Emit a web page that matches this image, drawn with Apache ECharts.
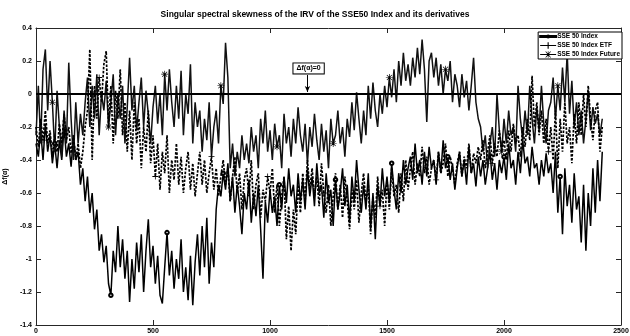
<!DOCTYPE html>
<html><head><meta charset="utf-8">
<script src="https://cdn.jsdelivr.net/npm/echarts@6/dist/echarts.min.js"></script>
<style>html,body{margin:0;padding:0;background:#fff}#c{width:630px;height:336px}</style>
</head><body><div id="c"></div>
<script>
const titleText = 'Singular spectral skewness of the IRV of the SSE50 Index and its derivatives';
const seriesNames = ['SSE 50 Index', 'SSE 50 Index ETF', 'SSE 50 Index Future'];
const xTicks = [0, 500, 1000, 1500, 2000, 2500];
const yTicks = [-1.4, -1.2, -1, -0.8, -0.6, -0.4, -0.2, 0, 0.2, 0.4];
const sampleStep = 10; // observations sampled every 10 points

const indexVals = [
-0.30,-0.38,-0.22,-0.40,-0.18,-0.35,-0.25,-0.42,-0.30,-0.45,
-0.28,-0.40,-0.20,-0.38,-0.30,-0.44,-0.25,-0.40,-0.35,-0.55,
-0.45,-0.65,-0.50,-0.72,-0.60,-0.82,-0.70,-0.95,-0.85,-1.02,
-0.92,-1.15,-1.22,-0.95,-1.08,-0.80,-1.05,-0.88,-1.12,-0.95,
-1.26,-1.00,-1.18,-0.90,-1.08,-0.85,-1.20,-0.95,-0.76,-1.05,
-0.92,-1.15,-0.98,-1.22,-1.27,-1.05,-0.84,-1.10,-0.95,-1.18,
-1.00,-1.12,-0.88,-1.20,-1.05,-1.25,-0.98,-1.28,-1.02,-0.85,
-1.10,-0.80,-1.05,-0.75,-1.15,-0.90,-1.05,-0.70,-0.55,-0.62,
-0.48,-0.58,-0.42,-0.65,-0.50,-0.72,-0.55,-0.68,-0.85,-0.60,
-0.70,-0.52,-0.78,-0.60,-0.74,-0.55,-0.82,-1.12,-0.65,-0.78,
-0.58,-0.72,-0.62,-0.80,-0.55,-0.70,-0.50,-0.66,-0.45,-0.62,
-0.55,-0.72,-0.48,-0.65,-0.52,-0.70,-0.45,-0.62,-0.50,-0.68,
-0.42,-0.60,-0.55,-0.75,-0.48,-0.66,-0.58,-0.80,-0.52,-0.70,
-0.60,-0.45,-0.68,-0.55,-0.78,-0.50,-0.65,-0.40,-0.58,-0.72,
-0.55,-0.70,-0.48,-0.82,-0.60,-0.88,-0.55,-0.68,-0.45,-0.62,
-0.50,-0.66,-0.42,-0.58,-0.70,-0.48,-0.60,-0.40,-0.55,-0.45,
-0.38,-0.52,-0.30,-0.48,-0.40,-0.55,-0.35,-0.50,-0.32,-0.45,
-0.40,-0.55,-0.35,-0.48,-0.28,-0.45,-0.38,-0.52,-0.42,-0.58,
-0.45,-0.35,-0.50,-0.40,-0.55,-0.32,-0.48,-0.42,-0.56,-0.38,
-0.50,-0.40,-0.55,-0.45,-0.35,-0.52,-0.42,-0.58,-0.40,-0.48,
-0.38,-0.52,-0.30,-0.45,-0.40,-0.55,-0.35,-0.48,-0.28,-0.42,
-0.38,-0.50,-0.32,-0.45,-0.42,-0.55,-0.40,-0.50,-0.36,-0.48,
-0.42,-0.60,-0.35,-0.72,-0.50,-0.85,-0.45,-0.68,-0.55,-0.78,
-0.48,-0.70,-0.62,-0.90,-0.55,-0.95,-0.60,-0.80,-0.45,-0.72,
-0.40,-0.65,-0.35
];
const etfVals = [
-0.20,-0.32,-0.15,-0.28,-0.10,-0.30,-0.22,-0.38,-0.25,-0.35,
-0.18,-0.30,-0.12,-0.28,-0.20,-0.36,-0.25,-0.40,-0.30,-0.45,
-0.35,-0.20,-0.10,0.27,-0.40,0.05,-0.15,0.10,-0.05,0.18,
0.26,-0.20,0.05,-0.30,0.02,-0.15,0.15,-0.25,-0.05,-0.35,
-0.10,-0.40,-0.05,-0.30,-0.15,-0.45,-0.20,-0.35,-0.10,-0.42,
-0.25,-0.50,-0.30,-0.58,-0.35,-0.48,-0.25,-0.60,-0.40,-0.52,
-0.30,-0.55,-0.38,-0.60,-0.45,-0.35,-0.58,-0.42,-0.62,-0.48,
-0.35,-0.55,-0.40,-0.60,-0.48,-0.38,-0.58,-0.45,-0.62,-0.50,
-0.40,-0.55,-0.45,-0.65,-0.50,-0.38,-0.60,-0.48,-0.70,-0.52,
-0.45,-0.62,-0.40,-0.70,-0.55,-0.48,-0.75,-0.58,-0.65,-0.50,
-0.60,-0.45,-0.72,-0.55,-0.80,-0.62,-0.50,-0.88,-0.68,-0.95,
-0.70,-0.85,-0.55,-0.72,-0.48,-0.65,-0.40,-0.58,-0.45,-0.62,
-0.50,-0.68,-0.42,-0.60,-0.72,-0.55,-0.80,-0.62,-0.48,-0.70,
-0.55,-0.75,-0.50,-0.65,-0.82,-0.58,-0.70,-0.52,-0.78,-0.60,
-0.48,-0.66,-0.55,-0.85,-0.62,-0.75,-0.50,-0.68,-0.58,-0.80,
-0.52,-0.70,-0.45,-0.62,-0.55,-0.72,-0.48,-0.65,-0.40,-0.58,
-0.45,-0.35,-0.55,-0.42,-0.50,-0.32,-0.48,-0.38,-0.55,-0.45,
-0.40,-0.52,-0.35,-0.48,-0.42,-0.30,-0.50,-0.38,-0.45,-0.55,
-0.42,-0.35,-0.50,-0.38,-0.45,-0.30,-0.48,-0.36,-0.42,-0.32,
-0.40,-0.28,-0.45,-0.35,-0.25,-0.42,-0.30,-0.38,-0.22,-0.35,
-0.28,-0.40,-0.22,-0.35,-0.18,-0.30,-0.25,-0.38,-0.20,-0.32,
-0.15,-0.28,0.11,-0.20,-0.05,-0.25,-0.10,-0.30,-0.15,-0.35,
-0.20,-0.40,-0.10,-0.45,-0.15,-0.35,-0.05,-0.30,-0.20,-0.42,
-0.12,-0.30,-0.05,-0.25,0.00,-0.20,0.05,-0.15,-0.28,-0.10,
-0.05,-0.35,-0.20
];
const futureVals = [
-0.25,0.05,-0.30,0.15,0.27,-0.10,0.20,-0.05,-0.35,0.02,
-0.20,-0.38,-0.10,-0.30,0.19,-0.15,-0.40,-0.05,-0.30,-0.12,
-0.25,-0.05,0.10,-0.20,0.05,-0.15,0.12,-0.25,0.00,-0.10,
0.08,-0.20,-0.05,0.12,-0.25,0.00,-0.15,0.05,-0.30,-0.08,
0.22,-0.10,0.05,-0.22,-0.05,0.10,-0.20,0.02,-0.12,-0.30,
-0.08,0.05,-0.18,0.00,-0.25,0.12,-0.10,0.15,-0.05,-0.20,
0.05,-0.15,0.14,-0.25,0.00,-0.12,0.18,-0.30,-0.05,-0.20,
-0.10,-0.35,-0.15,-0.28,-0.05,-0.38,-0.20,-0.10,-0.30,0.05,
-0.06,0.31,0.10,-0.45,-0.30,-0.50,-0.35,-0.45,-0.25,-0.40,
-0.30,-0.42,-0.20,-0.35,-0.25,-0.45,-0.15,-0.30,-0.10,-0.35,
-0.22,-0.40,-0.18,-0.32,-0.25,-0.45,-0.12,-0.30,-0.20,-0.38,
-0.15,-0.30,-0.08,-0.25,-0.35,-0.18,-0.42,-0.20,-0.32,-0.12,
-0.28,-0.40,-0.18,-0.35,-0.22,-0.45,-0.15,-0.30,-0.25,-0.10,
-0.30,-0.20,-0.38,-0.15,-0.26,-0.05,-0.22,0.01,-0.15,-0.30,
-0.10,-0.25,0.05,-0.15,0.07,-0.10,-0.20,0.00,-0.12,0.05,
-0.08,0.10,-0.02,0.15,-0.05,0.20,0.05,0.25,0.08,0.18,
0.05,0.22,0.10,0.28,0.12,0.33,0.15,-0.17,0.20,0.25,
0.10,0.22,0.05,0.18,0.00,0.15,0.08,0.20,-0.05,0.12,
0.05,-0.08,0.12,-0.02,0.08,-0.10,0.05,0.22,-0.05,-0.15,
-0.20,-0.35,-0.25,-0.45,-0.30,-0.20,-0.38,0.00,-0.22,-0.35,
-0.15,-0.30,-0.10,-0.25,-0.20,-0.35,0.05,-0.15,-0.28,-0.10,
-0.25,0.05,-0.15,-0.30,-0.08,-0.22,0.05,-0.18,-0.30,-0.10,
-0.05,0.10,-0.15,0.05,-0.10,0.16,-0.05,0.25,-0.12,0.08,
-0.20,-0.05,-0.25,-0.10,-0.30,-0.15,0.02,-0.22,-0.08,-0.18,
-0.12,-0.25,-0.15
];
const annotationText = 'Δf(α)=0';

function pairs(vals){ return vals.map((v,i)=>[i*sampleStep, v]); }

const FONT = 'Liberation Sans, Arial, sans-serif';
const PLUS = 'path://M-1,-0.13L1,-0.13L1,0.13L-1,0.13Z M-0.13,-1L0.13,-1L0.13,1L-0.13,1Z';
const STAR = 'path://M-1,-0.1L1,-0.1L1,0.1L-1,0.1Z M-0.1,-1L0.1,-1L0.1,1L-0.1,1Z M-0.78,-0.64L-0.64,-0.78L0.78,0.64L0.64,0.78Z M0.64,-0.78L0.78,-0.64L-0.64,0.78L-0.78,0.64Z';
const LINE = 'M0,3.5L20,3.5L20,4.5L0,4.5Z';
const iconIndex = 'path://' + LINE + ' M8.6,4A1.4,1.4 0 1,0 11.4,4A1.4,1.4 0 1,0 8.6,4Z';
const iconEtf = 'path://M0,3.3L20,3.3L20,4.7L0,4.7Z M9.3,0L10.7,0L10.7,8L9.3,8Z';
const iconFut = 'path://' + LINE + ' M9.6,0L10.4,0L10.4,8L9.6,8Z M6.6,0.6L7.2,0L13.4,7.4L12.8,8Z M12.8,0L13.4,0.6L7.2,8L6.6,7.4Z';

const axisCommon = {
  type: 'value', min: 0, max: 2500, interval: 500,
  splitLine: {show: false},
  axisLine: {show: true, onZero: false, lineStyle: {color: '#262626', width: 1}},
  axisTick: {show: true, inside: true, length: 5, lineStyle: {color: '#262626'}}
};
const yCommon = {
  type: 'value', min: -1.4, max: 0.4, interval: 0.2,
  splitLine: {show: false},
  axisLine: {show: true, onZero: false, lineStyle: {color: '#262626', width: 1}},
  axisTick: {show: true, inside: true, length: 5, lineStyle: {color: '#262626'}}
};

const chart = echarts.init(document.getElementById('c'), null, {renderer: 'canvas'});
chart.setOption({
  animation: false,
  backgroundColor: '#fff',
  textStyle: {fontFamily: FONT},
  title: {
    text: titleText, left: 'center', top: 5,
    textStyle: {fontSize: 8.5, fontWeight: 'bold', color: '#000', fontFamily: FONT}
  },
  legend: {
    orient: 'vertical', right: 8, top: 32,
    itemWidth: 16, itemHeight: 7, itemGap: 2,
    padding: [1, 2, 1, 1],
    borderColor: '#000', borderWidth: 1, backgroundColor: '#fff',
    textStyle: {fontSize: 6.5, fontWeight: 'bold', color: '#000', fontFamily: FONT, padding: [0,0,0,-4]},
    data: [
      {name: seriesNames[0], icon: iconIndex},
      {name: seriesNames[1], icon: iconEtf},
      {name: seriesNames[2], icon: iconFut}
    ]
  },
  grid: {left: 36, right: 9, top: 28, bottom: 11, containLabel: false, outerBoundsMode: 'none'},
  xAxis: [
    Object.assign({}, axisCommon, {
      position: 'bottom',
      axisLabel: {fontSize: 7, fontWeight: 'bold', color: '#000', margin: 3, fontFamily: FONT, formatter: v => String(v)},
      name: 'Δ', nameLocation: 'middle', nameGap: 14,
      nameTextStyle: {fontSize: 7, fontWeight: 'bold', color: '#000', padding: [0, 38, 0, 0]}
    }),
    Object.assign({}, axisCommon, {position: 'top', axisLabel: {show: false}})
  ],
  yAxis: [
    Object.assign({}, yCommon, {
      position: 'left',
      axisLabel: {fontSize: 7, fontWeight: 'bold', color: '#000', margin: 4, fontFamily: FONT, formatter: v => String(+v.toFixed(1))},
      name: 'Δf(α)', nameLocation: 'middle', nameGap: 22, nameRotate: 90,
      nameTextStyle: {fontSize: 7, fontWeight: 'bold', color: '#000', padding: [0, 0, 0, 0]}
    }),
    Object.assign({}, yCommon, {position: 'right', axisLabel: {show: false}})
  ],
  series: [
    {
      name: seriesNames[0], type: 'line', data: pairs(indexVals),
      xAxisIndex: 0, yAxisIndex: 0,
      showSymbol: true, showAllSymbol: true,
      symbol: (v, p) => (p.dataIndex % 24 === 8 ? 'emptyCircle' : 'none'),
      symbolSize: 3.5,
      itemStyle: {color: '#000', borderColor: '#000', borderWidth: 0.6},
      lineStyle: {color: '#000', width: 1.5},
      z: 2,
      markLine: {
        silent: true, symbol: ['none', 'none'],
        label: {show: false},
        lineStyle: {color: '#000', width: 2, type: 'solid'},
        data: [{yAxis: 0}]
      }
    },
    {
      name: seriesNames[1], type: 'line', data: pairs(etfVals),
      xAxisIndex: 0, yAxisIndex: 0,
      showSymbol: true, showAllSymbol: true,
      symbol: (v, p) => (p.dataIndex % 24 === 3 ? PLUS : 'none'),
      symbolSize: 6,
      itemStyle: {color: '#000'},
      lineStyle: {color: '#000', width: 1.7, type: [2.5, 1.5]},
      z: 3
    },
    {
      name: seriesNames[2], type: 'line', data: pairs(futureVals),
      xAxisIndex: 0, yAxisIndex: 0,
      showSymbol: true, showAllSymbol: true,
      symbol: (v, p) => (p.dataIndex % 24 === 7 ? STAR : 'none'),
      symbolSize: 7,
      itemStyle: {color: '#000'},
      lineStyle: {color: '#111', width: 1.5},
      z: 2,
      markPoint: {
        silent: true, symbol: 'rect', symbolSize: 1,
        itemStyle: {color: 'rgba(0,0,0,0)'},
        label: {
          show: true, position: 'inside', formatter: annotationText,
          fontSize: 7, fontWeight: 'bold', color: '#000', fontFamily: FONT,
          backgroundColor: '#fff', borderColor: '#000', borderWidth: 1, padding: [2, 3, 1, 3]
        },
        data: [{coord: [1165, 0.155]}]
      },
      markLine: {
        silent: true, symbol: ['none', 'arrow'], symbolSize: [4, 6],
        label: {show: false},
        lineStyle: {color: '#000', width: 1, type: 'solid'},
        data: [[{coord: [1160, 0.115]}, {coord: [1160, 0.012]}]]
      }
    }
  ]
});
</script>
</body></html>
